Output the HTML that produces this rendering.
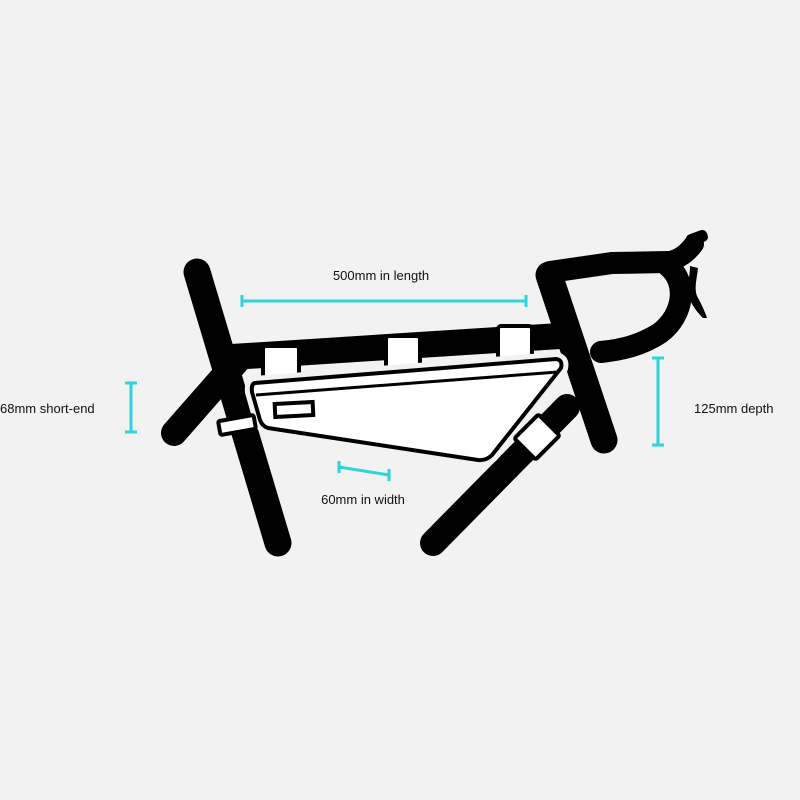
<!DOCTYPE html>
<html><head><style>
html,body{margin:0;padding:0;background:#f2f2f2;width:800px;height:800px;overflow:hidden}
svg{display:block}
text{font-family:"Liberation Sans",sans-serif;font-size:13px;fill:#111}
</style></head><body>
<svg width="800" height="800" viewBox="0 0 800 800">
<rect width="800" height="800" fill="#f2f2f2"/>
<g stroke="#000" stroke-linecap="round" fill="none" stroke-linejoin="round">
  <line x1="174" y1="433" x2="238" y2="360" stroke-width="26"/>
  <line x1="232" y1="357" x2="560" y2="336" stroke-width="26"/>
  <line x1="567" y1="407" x2="433" y2="543" stroke-width="26"/>
  <line x1="197" y1="272" x2="278" y2="543" stroke-width="27"/>
  <line x1="549" y1="275" x2="604" y2="440" stroke-width="27"/>
  <path d="M550 272 L612 263 L668 262" stroke-width="22"/>
  <path d="M668 266 C688 282 684 315 660 333 C640 346 620 350 601 352" stroke-width="22"/>
  <path d="M665 262 C680 260 688 252 694 244" stroke-width="20"/>
</g>
<rect x="686" y="232" width="22" height="12" rx="5" fill="#000" transform="rotate(-20 697 238)"/>
<path d="M690 266 L698 268 C697 278 694 288 697 296 C702 305 705 312 707 318 L703 318 C695 310 688 300 688 290 C688 282 690 274 690 266 Z" fill="#000"/>
<!-- straps on top tube -->
<g fill="#fff" stroke="#000" stroke-width="4">
  <rect x="263" y="346" width="36" height="33" rx="3"/>
  <rect x="386" y="336" width="34" height="33" rx="3"/>
  <rect x="498" y="326" width="34" height="33" rx="3"/>
</g>
<!-- bag -->
<path d="M255 383 L556 359 Q563 360 561 368 L492 455 Q486 461 478 460 L268 428 Q262 426 260 420 L252 392 Q251 384 255 383 Z" fill="#fff" stroke="#f2f2f2" stroke-width="14" stroke-linejoin="round"/>
<path d="M255 383 L556 359 Q563 360 561 368 L492 455 Q486 461 478 460 L268 428 Q262 426 260 420 L252 392 Q251 384 255 383 Z" fill="#fff" stroke="#000" stroke-width="4" stroke-linejoin="round"/>
<path d="M256 395 L558 372" stroke="#000" stroke-width="3"/>
<rect x="275" y="403" width="38" height="13" fill="#fff" stroke="#000" stroke-width="4" transform="rotate(-3 294 410)"/>
<!-- seat tube strap -->
<rect x="219" y="418" width="36" height="14" rx="2" fill="#fff" stroke="#000" stroke-width="4" transform="rotate(-10 237 425)"/>
<!-- down tube strap -->
<rect x="-17" y="-15" width="34" height="30" rx="2" fill="#fff" stroke="#000" stroke-width="4" transform="translate(537 437) rotate(-45)"/>
<!-- cyan dims -->
<g stroke="#2fd3dc" stroke-width="3" fill="none">
  <line x1="242" y1="301" x2="526" y2="301"/>
  <line x1="242" y1="295" x2="242" y2="307"/>
  <line x1="526" y1="295" x2="526" y2="307"/>
  <line x1="339" y1="467" x2="389" y2="475"/>
  <line x1="339" y1="461" x2="339" y2="473"/>
  <line x1="389" y1="469" x2="389" y2="481"/>
  <line x1="658" y1="358" x2="658" y2="445"/>
  <line x1="652" y1="358" x2="664" y2="358"/>
  <line x1="652" y1="445" x2="664" y2="445"/>
  <line x1="131" y1="383" x2="131" y2="432"/>
  <line x1="125" y1="383" x2="137" y2="383"/>
  <line x1="125" y1="432" x2="137" y2="432"/>
</g>
<text x="381" y="280" text-anchor="middle">500mm in length</text>
<text x="363" y="504" text-anchor="middle">60mm in width</text>
<text x="0" y="413">68mm short-end</text>
<text x="694" y="413">125mm depth</text>
</svg>
</body></html>
